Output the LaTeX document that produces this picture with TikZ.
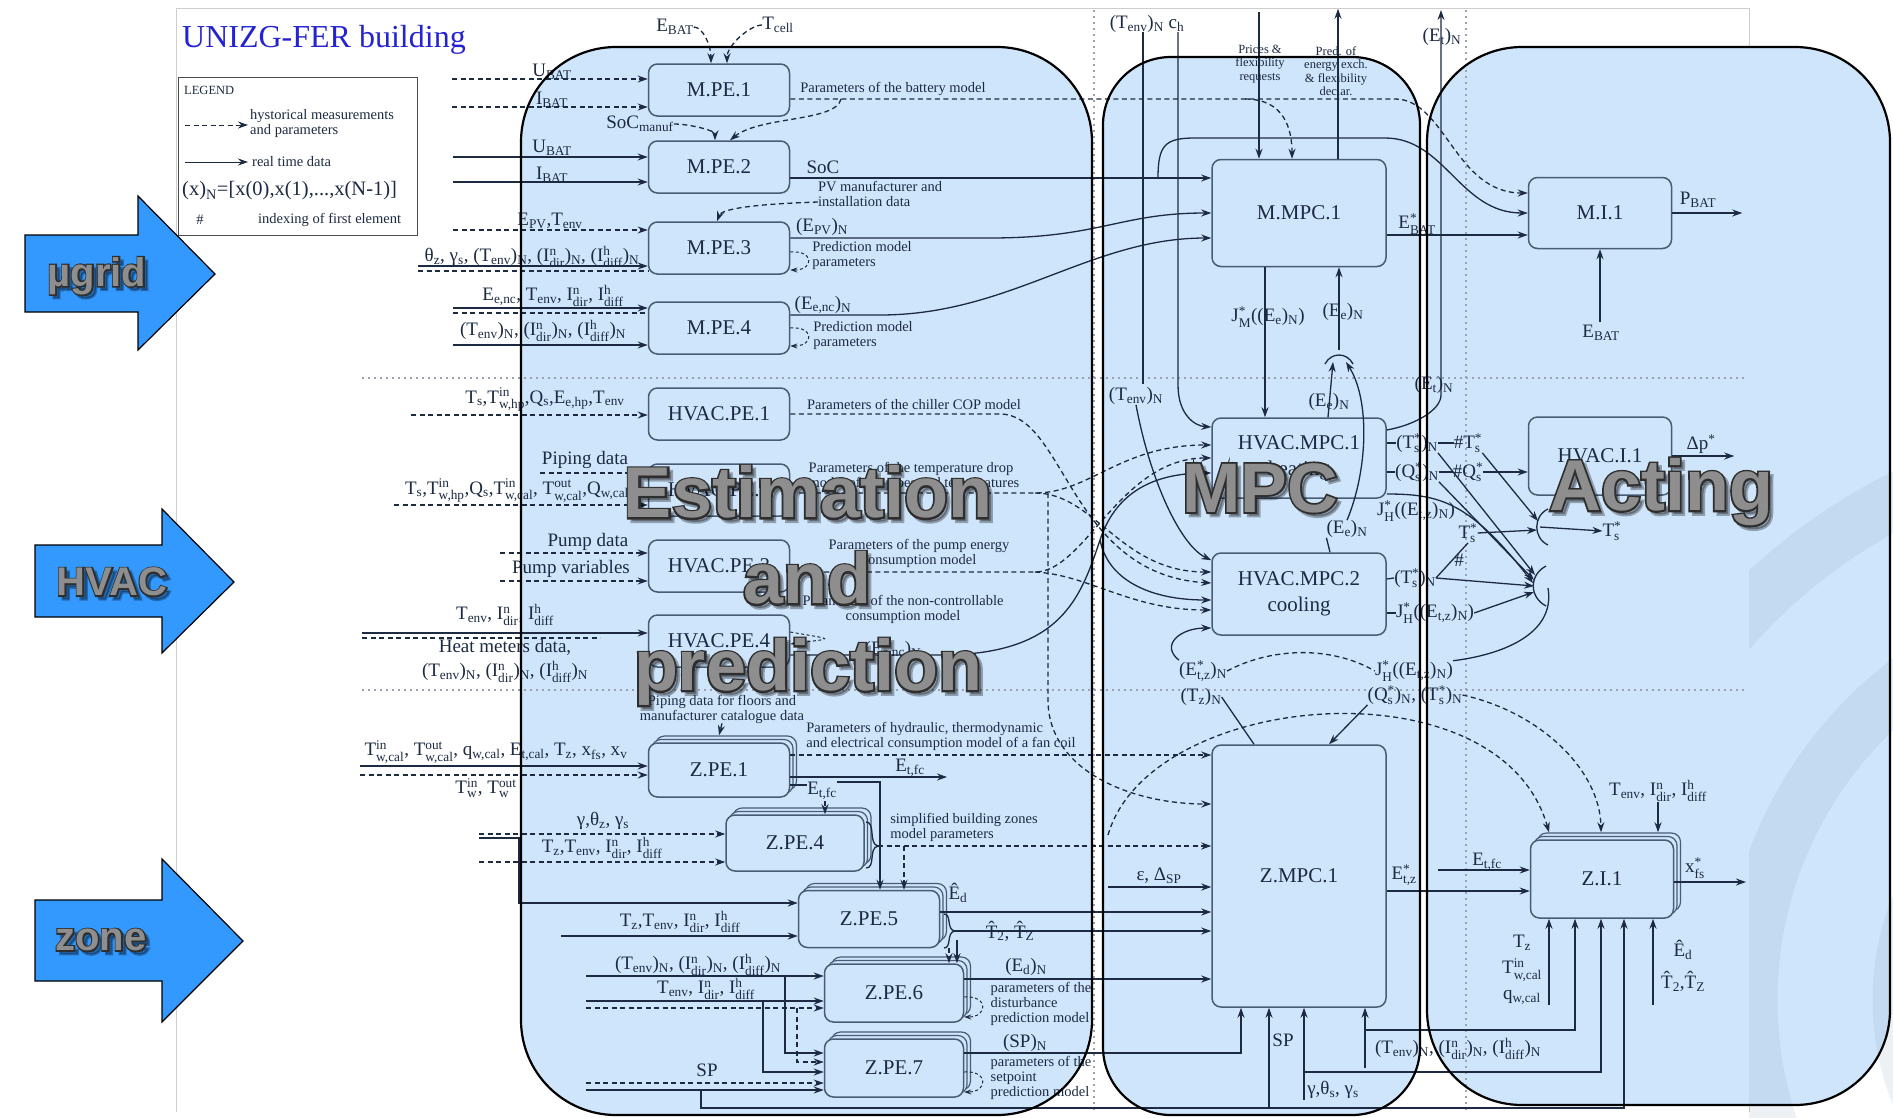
\documentclass[tikz,border=0pt]{standalone}
\usepackage{fontspec}
\usepackage{amsmath}
\setmainfont{Liberation Serif}
\newfontfamily\sansf{Liberation Sans}
\newfontfamily\sansoa{Liberation Sans}[BoldFeatures={FakeBold=5}]
\newfontfamily\sansob{Liberation Sans}[BoldFeatures={FakeBold=7}]
\usetikzlibrary{arrows.meta,shadows,calc}
\definecolor{panelc}{RGB}{207,229,251}
\definecolor{linec}{RGB}{28,42,66}
\definecolor{boxc}{RGB}{72,92,120}
\definecolor{abl}{RGB}{51,153,255}
\definecolor{titc}{RGB}{35,35,210}
\definecolor{sepc}{RGB}{155,163,178}
\definecolor{bigc}{RGB}{142,142,142}
\definecolor{sheetc}{RGB}{205,205,205}
\definecolor{swirlc}{RGB}{120,140,170}
\newcommand\bxf{\fontsize{21}{26}\selectfont}
\newcommand\lbf{\fontsize{19}{24}\selectfont}
\newcommand\smf{\fontsize{14.5}{15}\selectfont}
\newcommand\tnf{\fontsize{12.5}{13.5}\selectfont}
\newcommand\bigfnt[2]{#1\bfseries\fontsize{#2}{#2}\selectfont}
\newcommand\xlo[1]{\ensuremath{_{\text{#1}}}}
\newcommand\xhi[1]{\ensuremath{^{\text{#1}}}}
\newcommand\xhl[2]{\ensuremath{^{\text{#1}}_{\text{#2}}}}
\newcommand\inarr[4]{\draw[#1] (#2) coordinate (#3) -- (#3 -| #4);}
% name, x, y, size, text, outline family
\newcommand\bigtext[6]{%
  \node[font=\bigfnt{#6}{#4}, text=black, opacity=0.3] (#1s) at ($(#2,#3)+(3.5pt,-3.5pt)$) {#5};
  \node[font=\bigfnt{#6}{#4}, text=black!82] (#1o) at (#2,#3) {#5};
  \node[font=\bigfnt{\sansf}{#4}, text=bigc] (#1) at (#2,#3) {#5};
}
\tikzset{
 blk/.style={draw=boxc, fill=panelc, line width=1.5pt, rounded corners=9pt, minimum width=141pt, minimum height=52pt, inner sep=0pt, font=\bxf, text=linec, align=center},
 zblk/.style={blk, double copy shadow={shadow xshift=3.5pt, shadow yshift=3.5pt, draw=boxc, fill=panelc, line width=1.2pt}},
 ln/.style={draw=linec, line width=1.3pt},
 arr/.style={ln, -{Stealth[length=10pt,width=7pt]}},
 darr/.style={arr, dash pattern=on 5pt off 3.5pt},
 dln/.style={ln, dash pattern=on 5pt off 3.5pt},
 lab/.style={font=\lbf, text=linec, inner sep=0pt},
 sml/.style={font=\smf, text=linec, inner sep=0pt, align=left},
 tny/.style={font=\tnf, text=linec, inner sep=0pt, align=center},
 pborder/.style={draw=black, line width=2.2pt},
 sepline/.style={draw=sepc, line width=1.2pt, dash pattern=on 2pt off 4pt},
 loopa/.style={darr, line width=1pt, dash pattern=on 3pt off 2.5pt, -{Stealth[length=7pt,width=5pt]}},
}
\begin{document}
\begin{tikzpicture}[x=1pt,y=-1pt]
\useasboundingbox (0,0) rectangle (1893,1117);
\fill[white] (0,0) rectangle (1893,1117);
% sheet frame
\draw[sheetc, line width=1pt] (176,1112) -- (176,8) -- (1749,8) -- (1749,1112);
% panels
\fill[panelc, rounded corners=95pt] (521,47) rectangle (1092,1115);
\fill[panelc, rounded corners=68pt] (1103,57) rectangle (1420,1115);
\fill[panelc, rounded corners=95pt] (1427,47) rectangle (1890,1105);
% logo swirl
\begin{scope}
 \clip (1749,0) rectangle (1893,1117);
 \draw[swirlc, opacity=0.12, line width=55pt] (2150,1000) circle[radius=560];
 \draw[swirlc, opacity=0.12, line width=55pt] (2150,1000) circle[radius=400];
 \draw[swirlc, opacity=0.12, line width=55pt] (2150,1000) circle[radius=250];
\end{scope}
% separators
\draw[sepline] (362,378) -- (1745,378);
\draw[sepline] (362,690) -- (1745,690);
\draw[sepline] (1094,10) -- (1094,1110);
\draw[sepline] (1466,10) -- (1466,1110);

% ---------- blocks
\node[blk] (mpe1) at (719,90) {M.PE.1};
\node[blk] (mpe2) at (719,167) {M.PE.2};
\node[blk] (mpe3) at (719,248) {M.PE.3};
\node[blk] (mpe4) at (719,328) {M.PE.4};
\node[blk] (hpe1) at (719,414) {HVAC.PE.1};
\node[blk] (hpe2) at (719,490) {HVAC.PE.2};
\node[blk] (hpe3) at (719,566) {HVAC.PE.3};
\node[blk] (hpe4) at (719,641) {HVAC.PE.4};
\node[zblk, minimum height=54pt] (zpe1) at (719,770) {Z.PE.1};
\node[zblk, minimum width=138pt, minimum height=56pt] (zpe4) at (795,843) {Z.PE.4};
\node[zblk, minimum height=57pt] (zpe5) at (869,919) {Z.PE.5};
\node[zblk, minimum width=139pt, minimum height=58pt] (zpe6) at (894,993) {Z.PE.6};
\node[zblk, minimum width=139pt, minimum height=58pt] (zpe7) at (894,1068) {Z.PE.7};
\node[blk, minimum width=174pt, minimum height=107pt] (mmpc) at (1299,213) {M.MPC.1};
\node[blk, minimum width=143pt, minimum height=71pt] (mi) at (1600,213) {M.I.1};
\node[blk, minimum width=174pt, minimum height=80pt] (hmpc1) at (1299,458) {HVAC.MPC.1\\heating};
\node[blk, minimum width=174pt, minimum height=82pt] (hmpc2) at (1299,594) {HVAC.MPC.2\\cooling};
\node[blk, minimum width=143pt, minimum height=78pt] (hi) at (1600,456) {HVAC.I.1};
\node[blk, minimum width=174pt, minimum height=262pt] (zmpc) at (1299,876) {Z.MPC.1};
\node[zblk, minimum width=143pt, minimum height=78pt] (zi) at (1602,879) {Z.I.1};

% ---------- labels
\node[font=\fontsize{32}{34}\selectfont, text=titc, inner sep=0pt] (title) at (324,40) {UNIZG-FER building};
\node[lab] (ebat) at (675,27) {E\xlo{BAT}};
\node[lab] (tcell) at (778,25) {T\xlo{cell}};
\node[lab] (lub1) at (552,72) {U\xlo{BAT}};
\node[lab] (lib1) at (552,100) {I\xlo{BAT}};
\node[lab] (lsocm) at (640,124) {SoC\xlo{manuf}};
\node[sml] (lpbm) at (893,89) {Parameters of the battery model};
\node[lab] (lub2) at (552,148) {U\xlo{BAT}};
\node[lab] (lib2) at (552,175) {I\xlo{BAT}};
\node[lab] (lsoc) at (823,167) {SoC};
\node[sml] (lpv) at (880,194) {PV manufacturer and\\installation data};
\node[lab] (lepv) at (550,221) {E\xlo{PV},T\xlo{env}};
\node[lab] (lth) at (532,257) {θ\xlo{z}, γ\xlo{s}, (T\xlo{env})\xlo{N}, (I\xhl{n}{dir})\xlo{N}, (I\xhl{h}{diff})\xlo{N}};
\node[lab] (lepvn) at (822,227) {(E\xlo{PV})\xlo{N}};
\node[sml] (lpred1) at (862,256) {Prediction model\\parameters};
\node[lab] (leenc) at (553,296) {E\xlo{e,nc}, T\xlo{env}, I\xhl{n}{dir}, I\xhl{h}{diff}};
\node[lab] (ltn) at (543,331) {(T\xlo{env})\xlo{N}, (I\xhl{n}{dir})\xlo{N}, (I\xhl{h}{diff})\xlo{N}};
\node[lab] (leencn) at (823,305) {(E\xlo{e,nc})\xlo{N}};
\node[sml] (lpred2) at (863,336) {Prediction model\\parameters};
% legend
\draw[black!70, line width=1pt, fill=white] (178,77) rectangle (417,235);
\node[tny, anchor=west] (lleg) at (184,90) {LEGEND};
\node[sml, anchor=west] (lhist) at (250,124) {hystorical measurements\\and parameters};
\node[sml, anchor=west] (lreal) at (252,162) {real time data};
\node[font=\fontsize{20.5}{22}\selectfont, text=linec, inner sep=0pt, anchor=west] (lxn) at (182,191) {(x)\xlo{N}=[x(0),x(1),...,x(N-1)]};
\node[sml] (lhash) at (200,220) {\#};
\node[sml, anchor=west] (lidx) at (258,220) {indexing of first element};
\draw[darr, line width=1pt] (185,125) coordinate (lgA) -- (248,125) coordinate (lgB);
\draw[arr, line width=1pt] (185,162) coordinate (lgC) -- (248,162) coordinate (lgD);
% MPC top
\node[lab] (ltc) at (1147,24) {(T\xlo{env})\xlo{N} c\xlo{h}};
\node[tny] (lprices) at (1260,64) {Prices \&\\flexibility\\requests};
\node[tny] (lpredx) at (1336,71) {Pred. of\\energy exch.\\\& flexibility\\declar.};
\node[lab] (letn1) at (1442,37) {(E\xlo{t})\xlo{N}};
\node[lab] (lebs) at (1417,224) {E\xhl{*}{BAT}};
\node[lab] (lpbat) at (1698,200) {P\xlo{BAT}};
\node[lab] (lebat) at (1601,333) {E\xlo{BAT}};
\node[lab] (ljm) at (1268,317) {J\xhl{*}{M}((E\xlo{e})\xlo{N})};
\node[lab] (leen1) at (1343,312) {(E\xlo{e})\xlo{N}};
\node[lab] (ltenv) at (1136,396) {(T\xlo{env})\xlo{N}};
\node[lab] (leen2) at (1329,402) {(E\xlo{e})\xlo{N}};
\node[lab] (letn2) at (1434,385) {(E\xlo{t})\xlo{N}};
% HVAC labels
\node[lab] (lh1in) at (545,400) {T\xlo{s},T\xhl{in}{w,hp},Q\xlo{s},E\xlo{e,hp},T\xlo{env}};
\node[sml] (lh1p) at (914,404) {Parameters of the chiller COP model};
\node[lab] (lpip) at (585,460) {Piping data};
\node[lab] (lh2in) at (517,491) {T\xlo{s},T\xhl{in}{w,hp},Q\xlo{s},T\xhl{in}{w,cal}, T\xhl{out}{w,cal},Q\xlo{w,cal}};
\node[sml] (lh2p) at (914,476) {Parameters of the temperature drop\\model of the pipes and temperatures};
\node[lab] (lpd) at (588,542) {Pump data};
\node[lab] (lpv2) at (571,569) {Pump variables};
\node[sml, align=center] (lh3p) at (919,553) {Parameters of the pump energy\\consumption model};
\node[lab] (lh4in) at (505,615) {T\xlo{env}, I\xhl{n}{dir}, I\xhl{h}{diff}};
\node[lab, align=center] (lheat) at (505,661) {Heat meters data,\\(T\xlo{env})\xlo{N}, (I\xhl{n}{dir})\xlo{N}, (I\xhl{h}{diff})\xlo{N}};
\node[sml, align=center] (lh4p) at (903,609) {Parameters of the non-controllable\\consumption model};
\node[lab] (leenc2) at (893,650) {(E\xlo{e,nc})\xlo{N}};
\node[lab] (lts1) at (1417,443) {(T\xhl{*}{s})\xlo{N}};
\node[lab] (lhts) at (1468,443) {\#T\xhl{*}{s}};
\node[lab] (lqs1) at (1417,472) {(Q\xhl{*}{s})\xlo{N}};
\node[lab] (lhqs) at (1468,472) {\#Q\xhl{*}{s}};
\node[lab] (ljh1) at (1416,511) {J\xhl{*}{H}((E\xlo{t,z})\xlo{N})};
\node[lab] (leen3) at (1347,529) {(E\xlo{e})\xlo{N}};
\node[lab] (lts2) at (1468,533) {T\xhl{*}{s}};
\node[lab] (lhash2) at (1459,560) {\#};
\node[lab] (lts3) at (1612,531) {T\xhl{*}{s}};
\node[lab] (ldp) at (1701,444) {Δp\xhi{*}};
\node[lab] (lts4) at (1415,578) {(T\xhl{*}{s})\xlo{N}};
\node[lab] (ljh2) at (1435,613) {J\xhl{*}{H}((E\xlo{t,z})\xlo{N})};
\node[lab] (lets) at (1203,671) {(E\xhl{*}{t,z})\xlo{N}};
\node[lab] (ltz) at (1201,697) {(T\xlo{z})\xlo{N}};
\node[lab] (ljh3) at (1414,671) {J\xhl{*}{H}((E\xlo{t,z})\xlo{N})};
\node[lab] (lqts) at (1415,695) {(Q\xhl{*}{s})\xlo{N}, (T\xhl{*}{s})\xlo{N}};
% zone labels
\node[sml, align=center] (lpipf) at (722,709) {Piping data for floors and\\manufacturer catalogue data};
\node[lab] (lz1in) at (496,752) {T\xhl{in}{w,cal}, T\xhl{out}{w,cal}, q\xlo{w,cal}, E\xlo{t,cal}, T\xlo{z}, x\xlo{fs}, x\xlo{v}};
\node[lab] (lz1in2) at (486,788) {T\xhl{in}{w}, T\xhl{out}{w}};
\node[sml] (lz1p) at (941,736) {Parameters of hydraulic, thermodynamic\\and electrical consumption model of a fan coil};
\node[lab] (letfc1) at (910,768) {E\xlo{t,fc}};
\node[lab] (letfc2) at (822,791) {E\xlo{t,fc}};
\node[lab] (lgam) at (603,821) {γ,θ\xlo{z}, γ\xlo{s}};
\node[lab] (lz4in) at (602,848) {T\xlo{z},T\xlo{env}, I\xhl{n}{dir}, I\xhl{h}{diff}};
\node[sml] (lz4p) at (964,827) {simplified building zones\\model parameters};
\node[lab] (lz5in) at (680,922) {T\xlo{z},T\xlo{env}, I\xhl{n}{dir}, I\xhl{h}{diff}};
\node[lab] (led) at (958,893) {\^{E}\xlo{d}};
\node[lab] (lthat) at (1010,931) {\^{T}\xlo{2}, \^{T}\xlo{Z}};
\node[lab] (lz6in1) at (698,965) {(T\xlo{env})\xlo{N}, (I\xhl{n}{dir})\xlo{N}, (I\xhl{h}{diff})\xlo{N}};
\node[lab] (lz6in2) at (706,989) {T\xlo{env}, I\xhl{n}{dir}, I\xhl{h}{diff}};
\node[lab] (ledn) at (1026,967) {(E\xlo{d})\xlo{N}};
\node[sml] (lz6p) at (1041,1004) {parameters of the\\disturbance\\prediction model};
\node[lab] (lsp1) at (707,1070) {SP};
\node[lab] (lspn) at (1025,1043) {(SP)\xlo{N}};
\node[sml] (lz7p) at (1041,1078) {parameters of the\\setpoint\\prediction model};
\node[lab] (leps) at (1159,876) {ε, Δ\xlo{SP}};
\node[lab] (lsp2) at (1283,1040) {SP};
\node[lab] (lgam2) at (1333,1090) {γ,θ\xlo{s}, γ\xlo{s}};
\node[lab] (ltn2) at (1458,1049) {(T\xlo{env})\xlo{N}, (I\xhl{n}{dir})\xlo{N}, (I\xhl{h}{diff})\xlo{N}};
\node[lab] (letz) at (1404,875) {E\xhl{*}{t,z}};
\node[lab] (letfc3) at (1487,862) {E\xlo{t,fc}};
\node[lab] (lxfs) at (1695,868) {x\xhl{*}{fs}};
\node[lab] (lzitop) at (1658,791) {T\xlo{env}, I\xhl{n}{dir}, I\xhl{h}{diff}};
\node[lab, align=center, font=\fontsize{19}{26}\selectfont] (lzib1) at (1522,970) {T\xlo{z}\\T\xhl{in}{w,cal}\\q\xlo{w,cal}};
\node[lab, align=center, font=\fontsize{19}{32}\selectfont] (lzib2) at (1683,966) {\^{E}\xlo{d}\\\^{T}\xlo{2},\^{T}\xlo{Z}};

% ---------- connectors: microgrid
\inarr{darr}{452,79}{ub1}{mpe1.west}
\inarr{darr}{452,107}{ib1}{mpe1.west}
\inarr{arr}{453,157}{ub2}{mpe2.west}
\inarr{arr}{453,182}{ib2}{mpe2.west}
\inarr{darr}{453,230}{epvi}{mpe3.west}
\inarr{arr}{418,266}{th1}{mpe3.west}
\draw[dln] (418,271) coordinate (th2) -- (th2 -| mpe3.west);
\inarr{arr}{453,308}{en1}{mpe4.west}
\draw[dln] (453,313) coordinate (en2) -- (en2 -| mpe4.west);
\inarr{arr}{453,345}{tn1}{mpe4.west}
\draw[darr] (ebat.east) .. controls +(9,0) and +(0,-18) .. ([xshift=-8]mpe1.north);
\draw[darr] (tcell.west) .. controls +(-12,0) and +(0,-18) .. ([xshift=8]mpe1.north);
\draw[darr] (lsocm.east) .. controls +(15,0) and +(0,-10) .. ([xshift=-4]mpe2.north);
\draw[darr] (mpe1.east |- 0,99) -- (1395,99) .. controls (1445,99) and (1455,193) .. (mi.west |- 0,193);
\draw[darr] (841,99) coordinate (bp1) .. controls (836,122) and (760,116) .. ([xshift=11]mpe2.north);
\draw[darr] (1245,99) coordinate (bp2) .. controls (1285,99) and (1292,130) .. ([xshift=-7]mmpc.north);
\draw[arr] (mpe2.east |- 0,178) -- (mmpc.west |- 0,178);
\draw[arr] (1158,178) coordinate (socb) .. controls (1158,145) and (1165,138) .. (1195,138) -- (1385,138) .. controls (1445,138) and (1460,213) .. (mi.west);
\draw[arr] (mpe3.east |- 0,238) -- (990,238) .. controls (1100,238) and (1120,213) .. (mmpc.west);
\draw[arr] (mpe4.east |- 0,315) -- (880,315) .. controls (1010,315) and (1090,238) .. (mmpc.west |- 0,238);
\draw[darr] (lpv.west |- 0,202) .. controls (760,204) and (722,208) .. ([xshift=-2]mpe3.north);
\draw[loopa] ([yshift=-4]mpe3.east) .. controls +(24,-2) and +(24,0) .. ([yshift=-22]mpe3.east);
\draw[loopa] ([yshift=0]mpe4.east) .. controls +(24,-2) and +(24,0) .. ([yshift=-18]mpe4.east);
% MPC top
\draw[arr] (1259,12) coordinate (prt) -- (prt |- mmpc.north);
\draw[arr] ([xshift=39]mmpc.north) -- ++(0,-150) coordinate (pdt);
\draw[ln] (1143,32) coordinate (ch1) -- (1143,384);
\draw[arr] (ltenv.south) .. controls (1150,480) and (1180,545) .. ([yshift=-8]hmpc2.north west);
\draw[arr] (1178,32) coordinate (ch2) -- (1178,385) .. controls (1178,415) and (1195,426) .. (hmpc1.west |- 0,427);
\draw[arr] ([xshift=-34]mmpc.south) -- ([xshift=-34]hmpc1.north);
\draw[arr] (1339,350) coordinate (eej) -- (eej |- mmpc.south);
\draw[ln] (1325,364) .. controls (1331,352) and (1347,352) .. (1353,364);
\draw[arr] ([xshift=29]hmpc1.north) -- (1333,362);
\draw[ln] ([xshift=31]hmpc2.north) -- (leen3.south west);
\draw[arr] (leen3.north) .. controls (1368,470) and (1370,400) .. (1346,362);
\draw[arr] (mmpc.east |- 0,235) -- (mi.west |- 0,235);
\draw[arr] (mi.east) -- ++(70,0) coordinate (pbt);
\draw[arr] (1600,322) coordinate (ebt) -- (mi.south);
\draw[arr] (hmpc1.east |- 0,430) .. controls (1415,425) and (1441,410) .. (1441,395) -- (1441,10) coordinate (ett);
% HVAC
\inarr{darr}{411,415}{h1i}{hpe1.west}
\inarr{darr}{540,473}{h2a}{hpe2.west}
\inarr{darr}{394,505}{h2b}{hpe2.west}
\inarr{darr}{500,553}{h3a}{hpe3.west}
\inarr{darr}{500,581}{h3b}{hpe3.west}
\inarr{arr}{362,633}{h4a}{hpe4.west}
\draw[dln] (362,638) coordinate (h4b) -- (600,638);
\draw[loopa] ([yshift=9]hpe4.east) .. controls +(45,8) and +(45,-6) .. ([yshift=-3]hpe4.east);
\draw[darr] (hpe1.east) -- (1000,414) .. controls (1065,414) and (1070,575) .. (hmpc2.west |- 0,583);
\draw[darr] (hpe2.east |- 0,493) -- (1035,493) .. controls (1090,493) and (1120,445) .. (hmpc1.west |- 0,445);
\draw[darr] (1035,493) coordinate (b2) .. controls (1095,493) and (1120,572) .. (hmpc2.west |- 0,572);
\draw[darr] (hpe3.east |- 0,572) -- (1035,572) .. controls (1085,572) and (1120,458) .. (hmpc1.west);
\draw[darr] (1035,572) coordinate (b3) .. controls (1090,575) and (1130,610) .. (hmpc2.west |- 0,610);
\draw[arr] (hpe4.east |- 0,655) -- (940,655) .. controls (1060,655) and (1080,600) .. (1100,540) .. controls (1115,495) and (1150,473) .. (hmpc1.west |- 0,473);
\draw[arr] (1100,540) coordinate (b4) .. controls (1108,580) and (1150,600) .. (hmpc2.west |- 0,600);
\draw[ln] (hmpc1.east |- 0,443) -- (lts1.west);
\draw[ln] (lts1.east) -- (lhts.west);
\draw[ln] (hmpc1.east |- 0,472) -- (lqs1.west);
\draw[ln] (lqs1.east) -- (lhqs.west);
\draw[arr] (lhqs.east) -- (hi.west |- lhqs.east);
\draw[arr] (hi.east) -- ++(62,0) coordinate (dpt);
\draw[ln] (1548,509) .. controls (1533,516) and (1533,538) .. (1548,545);
\draw[arr] (lhts.south east) -- (1538,521);
\draw[arr] (lts2.east) -- (1537,530);
\draw[arr] (1540,527) coordinate (j1) -- (lts3.west);
\draw[ln] (1546,566) .. controls (1529,575) and (1529,597) .. (1546,606);
\draw[arr] (lts1.south east) -- (1535,575);
\draw[arr] (lqs1.south east) -- (1534,580);
\draw[arr] (hmpc1.east |- 0,494) .. controls (1440,494) and (1470,502) .. (1533,583);
\draw[arr] (lts4.east) -- (1534,586);
\draw[arr] (ljh2.east) -- (1534,592);
\draw[ln] (1548,588) coordinate (j2) .. controls (1556,635) and (1500,655) .. (ljh3.north east);
\draw[ln] (hmpc2.east |- 0,579) -- (lts4.west);
\draw[ln] (lts4.east) -- (lts2.south);
\draw[ln] (hmpc2.east |- 0,613) -- (ljh2.west);
\draw[arr] (lets.north west) .. controls (1160,645) and (1180,628) .. (hmpc2.west |- 0,628);
\draw[dln] (lets.east) .. controls (1270,648) and (1330,645) .. (ljh3.west);
\draw[ln] (ltz.east) -- ([xshift=-45]zmpc.north);
\draw[arr] (lqts.south west) -- ([xshift=30]zmpc.north);
% zone
\draw[darr] (lpipf.south) -- ([yshift=7]zpe1.north);
\inarr{arr}{360,766}{z1a}{zpe1.west}
\inarr{darr}{360,775}{z1b}{zpe1.west}
\draw[darr] (zpe1.east |- 0,755) -- (zmpc.west |- 0,755);
\draw[arr] (zpe1.east |- 0,777) -- (947,777) coordinate (etf1);
\draw[ln] (zpe1.east |- 0,785) -- (letfc2.west |- 0,785);
\draw[arr] (letfc2.east |- 0,782) -- (880,782) -- (880,0 |- zpe5.north);
\draw[darr] (825,801) coordinate (e2d) -- (825,0 |- zpe4.north);
\inarr{darr}{479,834}{z4a}{zpe4.west}
\inarr{darr}{479,862}{z4b}{zpe4.west}
\draw[arr] (479,838) coordinate (z4c) -- (519,838) -- (519,903) -- (zpe5.west |- 0,903);
\draw[ln] (866,822) .. controls (876,822) and (868,844) .. (878,846) .. controls (868,848) and (876,868) .. (866,868);
\draw[darr] (878,846) coordinate (br4) -- (zmpc.west |- 0,846);
\draw[darr] (904,846) coordinate (br4b) -- (904,0 |- zpe5.north);
\inarr{arr}{561,936}{z5a}{zpe5.west}
\draw[arr] (zpe5.east |- 0,912) -- (zmpc.west |- 0,912);
\draw[ln] (944,914) .. controls (952,914) and (946,930) .. (955,931) .. controls (946,932) and (952,948) .. (944,948);
\draw[arr] (955,931) coordinate (br5) -- (zmpc.west |- 0,931);
\draw[darr] (949,948) coordinate (br5b) -- (949,0 |- zpe6.north);
\draw[arr] (957,940) coordinate (br5c) -- (957,0 |- zpe6.north);
\inarr{arr}{586,976}{z6a}{zpe6.west}
\inarr{arr}{586,1001}{z6b}{zpe6.west}
\inarr{darr}{586,1008}{z6c}{zpe6.west}
\draw[arr] (zpe6.east |- 0,979) -- (zmpc.west |- 0,979);
\draw[loopa] ([yshift=-4]zpe6.east) .. controls +(24,-2) and +(24,0) .. ([yshift=-24]zpe6.east);
\draw[arr] (785,976) coordinate (z7a) -- (785,1053) -- (zpe7.west |- 0,1053);
\draw[darr] (797,1008) coordinate (z7b) -- (797,1062) -- (zpe7.west |- 0,1062);
\draw[arr] (763,1001) coordinate (z7c) -- (763,1072) -- (zpe7.west |- 0,1072);
\inarr{darr}{586,1083}{z7d}{zpe7.west}
\inarr{arr}{586,1090}{z7e}{zpe7.west}
\draw[arr] (zpe7.east |- 0,1053) -- (1241,1053) -- (1241,0 |- zmpc.south);
\draw[loopa] ([yshift=-4]zpe7.east) .. controls +(24,-2) and +(24,0) .. ([yshift=-24]zpe7.east);
\draw[arr] (701,1090) coordinate (spb) -- (701,1108) -- (1624,1108) -- (1624,0 |- zi.south);
\draw[arr] (1269,1108) coordinate (spm) -- (1269,0 |- zmpc.south);
\draw[arr] (1304,1100) coordinate (gmb) -- (1304,0 |- zmpc.south);
\draw[arr] (1304,1072) coordinate (gmh) -- (1601,1072) -- (1601,0 |- zi.south);
\draw[arr] (1365,1068) coordinate (tnb) -- (1365,0 |- zmpc.south);
\draw[arr] (1365,1030) coordinate (tnh) -- (1575,1030) -- (1575,0 |- zi.south);
\draw[arr] (1549,1005) coordinate (zb1) -- (1549,0 |- zi.south);
\draw[arr] (1653,1005) coordinate (zb2) -- (1653,0 |- zi.south);
\inarr{arr}{1108,887}{epsa}{zmpc.west}
\draw[arr] (zmpc.east |- 0,891) -- (zi.west |- 0,891);
\inarr{arr}{1438,870}{etf3}{zi.west}
\draw[arr] (zi.east |- 0,882) -- (1746,882) coordinate (xft);
\draw[arr] (lzitop.south) -- ([yshift=7]lzitop.south |- zi.north);
\draw[darr] (1108,835) coordinate (bga) .. controls (1150,690) and (1500,660) .. ([yshift=7]1549,0 |- zi.north);
\draw[darr] (lqts.east) .. controls (1540,712) and (1600,770) .. ([yshift=7]1601,0 |- zi.north);
\draw[darr] (1048,493) coordinate (bus) -- (1048,700) .. controls (1048,770) and (1130,804) .. (zmpc.west |- 0,804);

% ---------- panel borders
\draw[pborder, rounded corners=95pt] (521,47) rectangle (1092,1115);
\draw[pborder, rounded corners=68pt] (1103,57) rectangle (1420,1115);
\draw[pborder, rounded corners=95pt] (1427,47) rectangle (1890,1105);

% ---------- side arrows
\draw[fill=abl, draw=black, line width=1.2pt] (25,235) -- (138,235) -- (138,196) -- (215,274) -- (138,350) -- (138,312) -- (25,312) -- cycle;
\draw[fill=abl, draw=black, line width=1.2pt] (35,545) -- (162,545) -- (162,509) -- (234,582) -- (162,653) -- (162,617) -- (35,617) -- cycle;
\draw[fill=abl, draw=black, line width=1.2pt] (35,900) -- (162,900) -- (162,859) -- (243,941) -- (162,1022) -- (162,981) -- (35,981) -- cycle;
\bigtext{bmu}{97}{276}{40}{µgrid}{\sansob}
\bigtext{bhv}{112}{582}{40}{HVAC}{\sansob}
\bigtext{bzo}{101}{940}{40}{zone}{\sansob}

% ---------- overlay titles
\bigtext{bEst}{808}{492}{72}{Estimation}{\sansoa}
\bigtext{bAnd}{807}{578}{72}{and}{\sansoa}
\bigtext{bPred}{808}{672}{72}{prediction}{\sansoa}
\bigtext{bMPC}{1260}{488}{70}{MPC}{\sansoa}
\bigtext{bAct}{1661}{492}{72}{Acting}{\sansoa}
\end{tikzpicture}
\end{document}
